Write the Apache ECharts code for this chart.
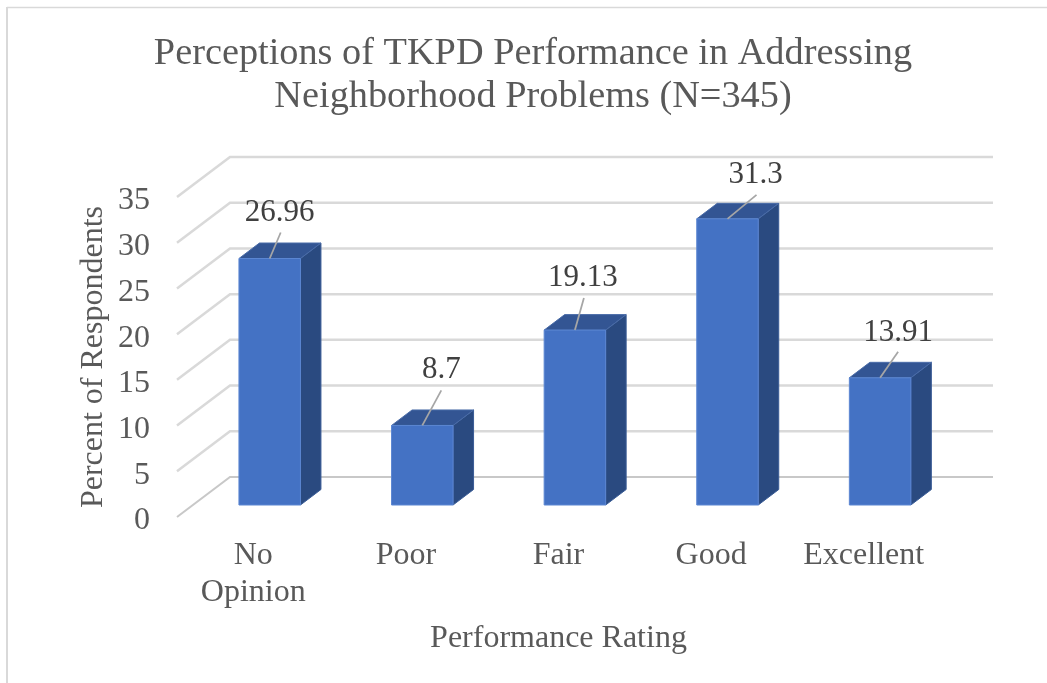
<!DOCTYPE html>
<html>
<head>
<meta charset="utf-8">
<style>html,body{margin:0;padding:0;background:#fff}#c{width:1047px;height:683px}</style>
<script src="https://cdn.jsdelivr.net/npm/echarts@6/dist/echarts.min.js"></script>
</head>
<body>
<div id="c"></div>
<script>
const categories = ['No Opinion', 'Poor', 'Fair', 'Good', 'Excellent'];
const percents = [26.96, 8.7, 19.13, 31.3, 13.91];
const yTicks = [0, 5, 10, 15, 20, 25, 30, 35];
const titleText = 'Perceptions of TKPD Performance in Addressing\nNeighborhood Problems (N=345)';
const xTitle = 'Performance Rating';
const yTitle = 'Percent of Respondents';

// Layout of the pseudo-3D projection, in pixels
const wall = [53, -40];          // back wall relative to the axis plane
const barPlane = [16.4, -12];    // bar front relative to the axis plane
const depth = [20.5, -15.5];     // bar depth
const leaderEnd = [[11, -26], [19, -35], [9, -32], [29, -24], [18, -26]];
const labelAt = [[10, -46], [19, -56], [8, -52], [28, -44], [18, -45]];
const FONT = '"Liberation Serif","Times New Roman",serif';

const chart = echarts.init(document.getElementById('c'), null, {renderer: 'canvas'});

function renderWall(params, api) {
  const cs = params.coordSys;
  const y = api.coord([0, api.value(1)])[1];
  const v = api.value(1);
  return {
    type: 'polyline',
    silent: true,
    shape: {points: [
      [cs.x, y],
      [cs.x + wall[0], y + wall[1]],
      [cs.x + cs.width + wall[0], y + wall[1]]
    ]},
    style: {fill: 'none', stroke: v === 0 ? '#c8c8c8' : '#d9d9d9', lineWidth: v === 0 ? 2 : 2.5}
  };
}

function renderBar(params, api) {
  const i = api.value(0);
  const top = api.coord([i, api.value(1)]);
  const base = api.coord([i, 0]);
  const w = api.size([1, 0])[0] * 0.403;
  const l = top[0] + barPlane[0] - w / 2, r = l + w;
  const t = top[1] + barPlane[1], b = base[1] + barPlane[1];
  const dx = depth[0], dy = depth[1];
  const cx = (l + r) / 2;
  return {
    type: 'group',
    children: [
      {type: 'polygon', shape: {points: [[r, t], [r + dx, t + dy], [r + dx, b + dy], [r, b]]},
        style: {fill: '#2a4a80', stroke: '#3a5c96', lineWidth: 1}},
      {type: 'polygon', shape: {points: [[l, t], [l + dx, t + dy], [r + dx, t + dy], [r, t]]},
        style: {fill: '#335593', stroke: '#4a6ca8', lineWidth: 1}},
      {type: 'rect', shape: {x: l, y: t, width: w, height: b - t},
        style: {fill: '#4472c4', stroke: '#5b86d2', lineWidth: 1}},
      {type: 'line', shape: {x1: cx, y1: t, x2: cx + leaderEnd[i][0], y2: t + leaderEnd[i][1]},
        style: {stroke: '#a6a6a6', lineWidth: 1.75}},
      {type: 'text', style: {
        x: cx + labelAt[i][0], y: t + labelAt[i][1],
        text: String(percents[i]), align: 'center', verticalAlign: 'middle',
        font: '31px ' + FONT, fill: '#404040'
      }}
    ]
  };
}

chart.setOption({
  animation: false,
  backgroundColor: '#fff',
  title: {
    text: titleText, left: 528, top: 27, textAlign: 'center',
    textStyle: {fontFamily: FONT, fontSize: 38.3, fontWeight: 'normal', color: '#595959', lineHeight: 43}
  },
  grid: {left: 177, right: 107, top: 197, bottom: 166},
  xAxis: {
    type: 'category', data: categories,
    axisLine: {show: false}, axisTick: {show: false}, splitLine: {show: false},
    axisLabel: {
      fontFamily: FONT, fontSize: 32, color: '#595959', lineHeight: 37, margin: 20,
      interval: 0, formatter: v => v.replace(' ', '\n')
    },
    name: xTitle, nameLocation: 'middle', nameGap: 106, nameMoveOverlap: false,
    nameTextStyle: {fontFamily: FONT, fontSize: 32, color: '#595959'}
  },
  yAxis: {
    type: 'value', min: 0, max: 35, interval: 5,
    axisLine: {show: false}, axisTick: {show: false}, splitLine: {show: false},
    axisLabel: {fontFamily: FONT, fontSize: 32, color: '#595959', margin: 27, verticalAlign: 'top', lineHeight: 8},
    name: yTitle, nameLocation: 'middle', nameGap: 67, nameRotate: 90, nameMoveOverlap: false,
    nameTextStyle: {fontFamily: FONT, fontSize: 32, color: '#595959'}
  },
  graphic: [
    {type: 'line', shape: {x1: 7, y1: 7.5, x2: 1047, y2: 7.5}, style: {stroke: '#d9d9d9', lineWidth: 1.5}},
    {type: 'line', shape: {x1: 7, y1: 7, x2: 7, y2: 683}, style: {stroke: '#d9d9d9', lineWidth: 2}}
  ],
  series: [
    {
      type: 'custom', renderItem: renderWall, clip: false, silent: true, z: 1,
      encode: {x: 0, y: 1},
      data: yTicks.map(t => [0, t])
    },
    {
      type: 'custom', renderItem: renderBar, clip: false, silent: true, z: 2,
      encode: {x: 0, y: 1},
      data: percents.map((p, i) => [i, p])
    }
  ]
});
</script>
</body>
</html>
